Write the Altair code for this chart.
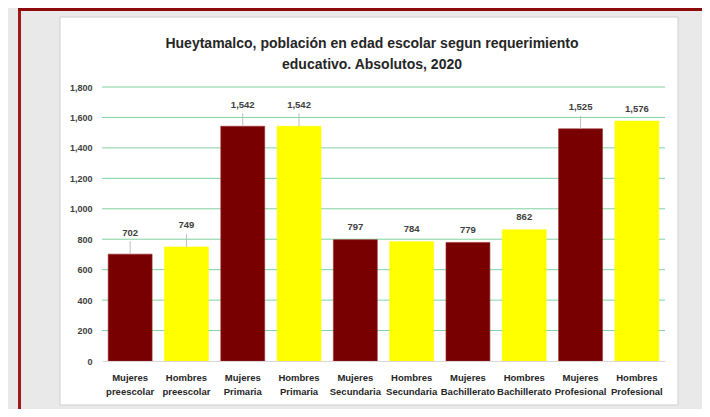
import altair as alt
import pandas as pd

categories = ["Mujeres preescolar", "Hombres preescolar", "Mujeres Primaria", "Hombres Primaria",
              "Mujeres Secundaria", "Hombres Secundaria", "Mujeres Bachillerato", "Hombres Bachillerato",
              "Mujeres Profesional", "Hombres Profesional"]
sexes = ["Mujeres", "Hombres", "Mujeres", "Hombres", "Mujeres", "Hombres", "Mujeres", "Hombres", "Mujeres", "Hombres"]
values = [702, 749, 1542, 1542, 797, 784, 779, 862, 1525, 1576]
y_ticks = [0, 200, 400, 600, 800, 1000, 1200, 1400, 1600, 1800]
lifted_labels = ["Mujeres preescolar", "Hombres preescolar", "Mujeres Primaria", "Hombres Primaria",
                 "Mujeres Profesional"]
title_lines = ["Hueytamalco, población en edad escolar segun requerimiento", "educativo. Absolutos, 2020"]

df = pd.DataFrame({"cat": categories, "sexo": sexes, "valor": values,
                   "lifted": [c in lifted_labels for c in categories]})

FONT = "Liberation Sans"
W, H = 563, 274

dummy = alt.Data(values=[{"k": 1}])

yscale = alt.Scale(domain=[0, 1800], nice=False)
yaxis = alt.Axis(title=None, values=y_ticks, format=",.0f", domain=False, ticks=False, grid=False,
                 labelFont=FONT, labelFontSize=9, labelFontWeight="bold", labelColor="#404040",
                 labelPadding=10, zindex=1)
xaxis = alt.Axis(title=None, labelExpr="split(datum.label, ' ')", labelAngle=0, ticks=False, grid=False,
                 domainColor="#d9d9d9", domainWidth=1, labelFont=FONT, labelFontSize=9.5,
                 labelFontWeight="bold", labelColor="#262626", labelPadding=11,
                 labelLineHeight=14, labelBaseline="top", zindex=1)
xscale = alt.Scale(paddingInner=0.22, paddingOuter=0.11)


def xe():
    return alt.X("cat:N", sort=categories, scale=xscale, axis=xaxis)


def ye(field="valor:Q"):
    return alt.Y(field, scale=yscale, axis=yaxis)


# decorations (pixel positions relative to plot area)
white_box = alt.Chart(dummy).mark_rect(fill="white", stroke="#cfcfcf", strokeWidth=1).encode(
    x=alt.value(-42), x2=alt.value(576), y=alt.value(-70), y2=alt.value(318))
red_left = alt.Chart(dummy).mark_rect(fill="#a3161a").encode(
    x=alt.value(-84), x2=alt.value(-81), y=alt.value(-79), y2=alt.value(330))
red_top = alt.Chart(dummy).mark_rect(fill="#8e0b0b").encode(
    x=alt.value(-84), x2=alt.value(620), y=alt.value(-79), y2=alt.value(-76))

title1 = alt.Chart(dummy).mark_text(font=FONT, fontSize=14, fontWeight="bold", color="#262626",
                                    baseline="alphabetic", align="center").encode(
    x=alt.value(270), y=alt.value(-39), text=alt.value(title_lines[0]))
title2 = alt.Chart(dummy).mark_text(font=FONT, fontSize=14, fontWeight="bold", color="#262626",
                                    baseline="alphabetic", align="center").encode(
    x=alt.value(270), y=alt.value(-18), text=alt.value(title_lines[1]))

grid = alt.Chart(alt.Data(values=[{"valor": v} for v in y_ticks if v > 0])).mark_rule(
    color="#7FD3A0", strokeWidth=1).encode(y=ye())

base = alt.Chart(df)

bars = base.mark_bar(strokeWidth=0.6).encode(
    x=xe(), y=ye(),
    color=alt.Color("sexo:N", scale=alt.Scale(domain=["Mujeres", "Hombres"], range=["#780000", "#FFFF00"]),
                    legend=None),
    stroke=alt.Color("sexo:N", scale=alt.Scale(domain=["Mujeres", "Hombres"], range=["#9a2a2a", "#FFFF00"]),
                     legend=None))

leaders = base.transform_filter("datum.lifted").transform_calculate(
    lead_top="datum.valor + 85").mark_rule(color="#bfbfbf", strokeWidth=1).encode(
    x=xe(), y=ye(), y2="lead_top:Q")

labels_lift = base.transform_filter("datum.lifted").mark_text(
    font=FONT, fontSize=9.5, fontWeight="bold", color="#404040", baseline="alphabetic", dy=-18.5).encode(
    x=xe(), y=ye(), text=alt.Text("valor:Q", format=","))
labels_norm = base.transform_filter("!datum.lifted").mark_text(
    font=FONT, fontSize=9.5, fontWeight="bold", color="#404040", baseline="alphabetic", dy=-9.5).encode(
    x=xe(), y=ye(), text=alt.Text("valor:Q", format=","))

chart = alt.layer(red_left, red_top, white_box, title1, title2, grid, bars, leaders, labels_lift,
                  labels_norm).properties(
    width=W, height=H,
    autosize=alt.AutoSizeParams(type="none"),
    padding={"left": 94, "top": 79, "right": 37, "bottom": 48},
    background="#e9e9e9",
).configure_view(strokeWidth=0).configure_axis(grid=False)

chart.save("out.html", embed_options={"renderer": "svg", "actions": False})
